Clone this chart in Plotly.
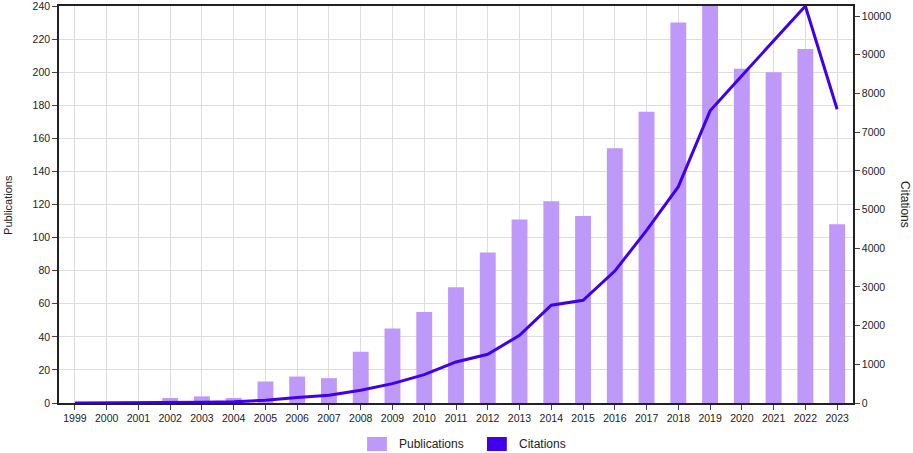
import plotly.graph_objects as go

years = [str(y) for y in range(1999, 2024)]
publications = [0, 0, 0, 3, 4, 3, 13, 16, 15, 31, 45, 55, 70, 91, 111, 122, 113,
                154, 176, 230, 240, 202, 200, 214, 108]
citations = [0, 2, 5, 10, 20, 30, 70, 140, 199, 328, 500, 734, 1060, 1259, 1750,
             2526, 2656, 3410, 4460, 5590, 7550, 8460, 9365, 10260, 7590]
pub_ticks = list(range(0, 241, 20))
cit_ticks = list(range(0, 10001, 1000))

bar_color = "#BF99FA"
line_color = "#4000EE"
font = "Liberation Sans, Arial, sans-serif"

fig = go.Figure()
fig.add_trace(go.Bar(x=years, y=publications, name="Publications",
                     marker=dict(color=bar_color, line=dict(width=0)), width=0.5))
fig.add_trace(go.Scatter(x=years, y=citations, name="Citations", yaxis="y2",
                         mode="lines", line=dict(color=line_color, width=3)))

axis_common = dict(showline=True, linecolor="#222", linewidth=1.5,
                   ticks="outside", ticklen=5, tickcolor="#444", automargin=False,
                   ticklabeloverflow="allow",
                   tickfont=dict(family=font, size=10.5, color="#222"))

# legend drawn by hand so it does not push the margins
legend_items = [("Publications", bar_color, 0.388), ("Citations", line_color, 0.539)]
shapes, annotations = [], []
for name, color, x0 in legend_items:
    shapes.append(dict(type="rect", xref="paper", yref="paper",
                       x0=x0, x1=x0 + 0.025, y0=-0.121, y1=-0.0856,
                       fillcolor=color, line=dict(width=0)))
    annotations.append(dict(text=name, x=x0 + 0.038, xref="paper", xanchor="left",
                            y=-0.103, yref="paper", yanchor="middle",
                            showarrow=False, font=dict(family=font, size=12)))

annotations += [
    dict(text="Publications", textangle=-90, x=-0.065, xref="paper",
         xanchor="center", y=0.5, yref="paper", yanchor="middle",
         showarrow=False, font=dict(family=font, size=11)),
    dict(text="Citations", textangle=90, x=1.066, xref="paper",
         xanchor="center", y=0.5, yref="paper", yanchor="middle",
         showarrow=False, font=dict(family=font, size=12)),
]

fig.update_layout(
    width=913, height=453,
    margin=dict(l=59, r=60, t=6, b=50),
    plot_bgcolor="white", paper_bgcolor="white",
    font=dict(family=font, color="#222"),
    showlegend=False,
    xaxis=dict(**axis_common, showgrid=True, gridcolor="#DDDDDD",
               mirror=True, tickangle=0),
    yaxis=dict(**axis_common, range=[0, 240], tickvals=pub_ticks, showgrid=True,
               gridcolor="#DDDDDD", zeroline=False),
    yaxis2=dict(**axis_common, overlaying="y", side="right", range=[0, 10260],
                tickvals=cit_ticks, tickformat="d", showgrid=False, zeroline=False),
    shapes=shapes,
    annotations=annotations,
)

fig.write_html("out.html", config={"displayModeBar": False},
               post_script="document.body.style.margin = '0';")
